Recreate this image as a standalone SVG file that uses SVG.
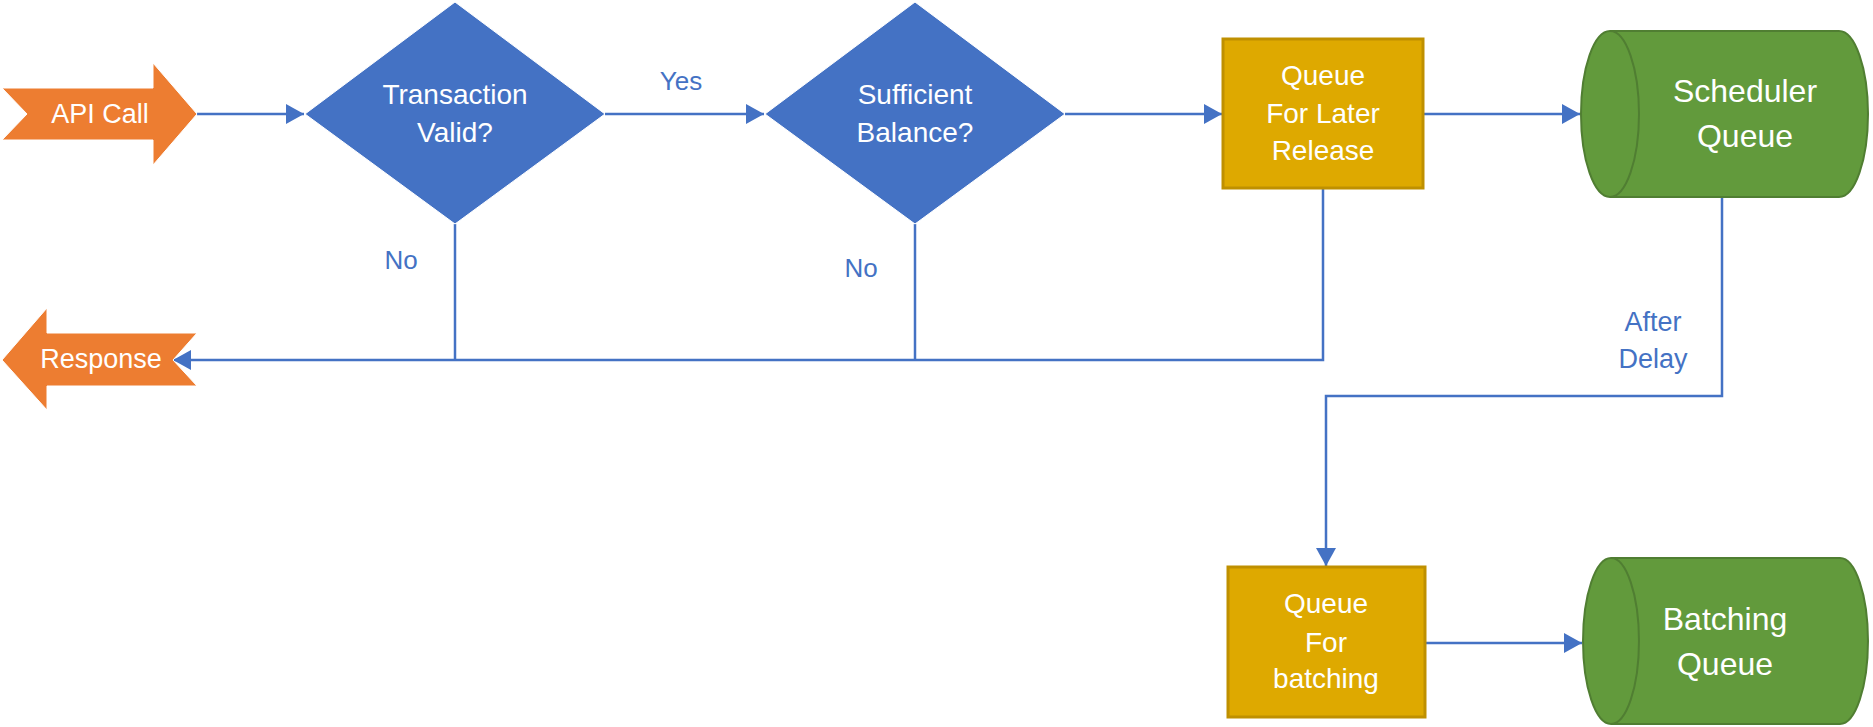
<svg xmlns="http://www.w3.org/2000/svg" width="1873" height="727" viewBox="0 0 1873 727">
<defs>
<style>
.t{font-family:"Liberation Sans",Arial,sans-serif;fill:#ffffff;text-anchor:middle}
.l{font-family:"Liberation Sans",Arial,sans-serif;fill:#4472C4;text-anchor:middle;font-size:26px}
.c{fill:none;stroke:#4472C4;stroke-width:2.5}
.dia{fill:#4472C4;stroke:#ffffff;stroke-width:1}
.arr{fill:#ED7D31;stroke:#ffffff;stroke-width:1}
.box{fill:#DEA900;stroke:#BF9000;stroke-width:3}
.cyl{fill:#629A3C;stroke:#507E32;stroke-width:2}
</style>
<marker id="ah" markerUnits="userSpaceOnUse" markerWidth="18" markerHeight="20" refX="18" refY="10" orient="auto">
<path d="M0,0 L18,10 L0,20 Z" fill="#4472C4"/>
</marker>
</defs>
<g id="connectors">
<line class="c" x1="197" y1="114" x2="304" y2="114" marker-end="url(#ah)"/>
<line class="c" x1="605" y1="114" x2="764" y2="114" marker-end="url(#ah)"/>
<line class="c" x1="1065" y1="114" x2="1222" y2="114" marker-end="url(#ah)"/>
<line class="c" x1="1424" y1="114" x2="1580" y2="114" marker-end="url(#ah)"/>
<polyline class="c" points="455,224 455,360"/>
<polyline class="c" points="915,224 915,360"/>
<polyline class="c" points="1323,188 1323,360 173,360" marker-end="url(#ah)"/>
<polyline class="c" points="1722,197 1722,396 1326,396 1326,566" marker-end="url(#ah)"/>
<line class="c" x1="1426" y1="643" x2="1582" y2="643" marker-end="url(#ah)"/>
<text class="l" x="681" y="90">Yes</text>
<text class="l" x="401" y="269">No</text>
<text class="l" x="861" y="277">No</text>
<text class="l" x="1653" y="331" style="font-size:27px">After</text>
<text class="l" x="1653" y="368" style="font-size:27px">Delay</text>
</g>
<g id="api-call">
<path class="arr" d="M2,88 L153,88 L153,63 L197,114 L153,165 L153,140 L2,140 L27,114 Z"/>
<text class="t" x="100" y="123" font-size="27">API Call</text>
</g>
<g id="response">
<path class="arr" d="M2,360 L47,308 L47,333 L197,333 L173,360 L197,386 L47,386 L47,410 Z"/>
<text class="t" x="101" y="368" font-size="27">Response</text>
</g>
<g id="transaction-valid">
<path class="dia" d="M455,2 L605,114 L455,224 L305,114 Z"/>
<text class="t" x="455" y="104" font-size="28">Transaction</text>
<text class="t" x="455" y="142" font-size="28">Valid?</text>
</g>
<g id="sufficient-balance">
<path class="dia" d="M915,2 L1065,114 L915,224 L765,114 Z"/>
<text class="t" x="915" y="104" font-size="28">Sufficient</text>
<text class="t" x="915" y="142" font-size="28">Balance?</text>
</g>
<g id="queue-later">
<rect class="box" x="1223" y="39" width="200" height="149"/>
<text class="t" x="1323" y="85" font-size="28">Queue</text>
<text class="t" x="1323" y="123" font-size="28">For Later</text>
<text class="t" x="1323" y="160" font-size="28">Release</text>
</g>
<g id="scheduler-queue">
<path class="cyl" d="M1610,31 L1839,31 A29,83 0 0 1 1839,197 L1610,197 A29,83 0 0 1 1610,31 Z"/>
<path class="cyl" d="M1610,31 A29,83 0 0 1 1610,197" fill="none"/>
<text class="t" x="1745" y="102" font-size="32">Scheduler</text>
<text class="t" x="1745" y="147" font-size="32">Queue</text>
</g>
<g id="queue-batching">
<rect class="box" x="1228" y="567" width="197" height="150"/>
<text class="t" x="1326" y="613" font-size="28">Queue</text>
<text class="t" x="1326" y="652" font-size="28">For</text>
<text class="t" x="1326" y="688" font-size="28">batching</text>
</g>
<g id="batching-queue">
<path class="cyl" d="M1611,558 L1840,558 A28,83 0 0 1 1840,724 L1611,724 A28,83 0 0 1 1611,558 Z"/>
<path class="cyl" d="M1611,558 A28,83 0 0 1 1611,724" fill="none"/>
<text class="t" x="1725" y="630" font-size="32">Batching</text>
<text class="t" x="1725" y="675" font-size="32">Queue</text>
</g>
</svg>
